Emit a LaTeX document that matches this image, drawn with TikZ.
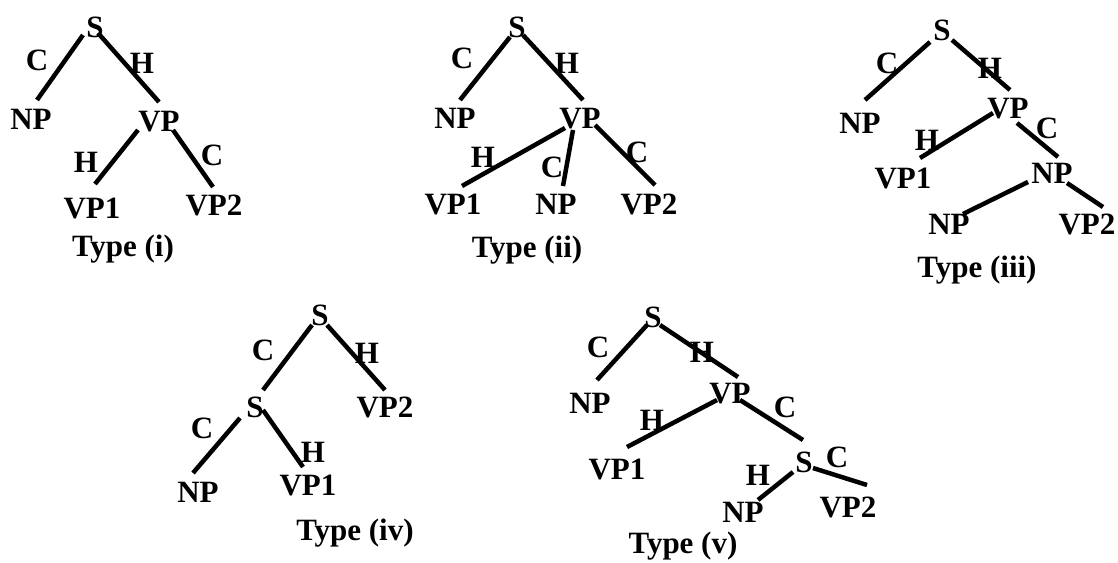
\documentclass[tikz,border=0pt]{standalone}
\usepackage{fontspec}
\setmainfont{Liberation Serif}
\begin{document}
\begin{tikzpicture}[x=1pt,y=-1pt,
  lab/.style={font=\fontsize{31}{31}\selectfont\bfseries, inner sep=0pt, text height=20.5pt, text depth=0pt, anchor=center},
  br/.style={line width=4.5pt}]
\useasboundingbox (0,0) rectangle (1118,562);
% ---------- Type (i)
\node[lab] (a-S) at (95,27) {S};
\node[lab] (a-NP) at (31,119) {NP};
\node[lab] (a-VP) at (159,121) {VP};
\node[lab] (a-VP1) at (92,208) {VP1};
\node[lab] (a-VP2) at (214,205) {VP2};
\node[lab] (a-c1) at (37,60) {C};
\node[lab] (a-h1) at (142,63) {H};
\node[lab] (a-h2) at (86,162) {H};
\node[lab] (a-c2) at (212,155) {C};
\node[lab] (a-T) at (123,246) {Type (i)};
\draw[br] ([shift={(-12,8)}]a-S.center) -- ([shift={(6,-19)}]a-NP.center);
\draw[br] ([shift={(3,6)}]a-S.center) -- ([shift={(0,-19)}]a-VP.center);
\draw[br] ([shift={(-21,9)}]a-VP.center) -- ([shift={(3,-24)}]a-VP1.center);
\draw[br] ([shift={(14,9)}]a-VP.center) -- ([shift={(-1,-18)}]a-VP2.center);
% ---------- Type (ii)
\node[lab] (b-S) at (517,27) {S};
\node[lab] (b-NP) at (455,118) {NP};
\node[lab] (b-VP) at (580,118) {VP};
\node[lab] (b-VP1) at (453,204) {VP1};
\node[lab] (b-NPb) at (556,204) {NP};
\node[lab] (b-VP2) at (649,204) {VP2};
\node[lab] (b-c1) at (462,58) {C};
\node[lab] (b-h1) at (567,63) {H};
\node[lab] (b-h2) at (483,157) {H};
\node[lab] (b-c2) at (552,167) {C};
\node[lab] (b-c3) at (637,152) {C};
\node[lab] (b-T) at (527,247) {Type (ii)};
\draw[br] ([shift={(-7,10)}]b-S.center) -- ([shift={(5,-18)}]b-NP.center);
\draw[br] ([shift={(6,8)}]b-S.center) -- ([shift={(3,-18)}]b-VP.center);
\draw[br] ([shift={(-15,10)}]b-VP.center) -- ([shift={(9,-18)}]b-VP1.center);
\draw[br] ([shift={(-7,12)}]b-VP.center) -- ([shift={(7,-18)}]b-NPb.center);
\draw[br] ([shift={(15,7)}]b-VP.center) -- ([shift={(6,-19)}]b-VP2.center);
% ---------- Type (iii)
\node[lab] (c-S) at (942,30) {S};
\node[lab] (c-NP) at (860,123) {NP};
\node[lab] (c-VP) at (1008,108) {VP};
\node[lab] (c-VP1) at (903,178) {VP1};
\node[lab] (c-NPm) at (1052,173) {NP};
\node[lab] (c-NPl) at (949,224) {NP};
\node[lab] (c-VP2) at (1087,224) {VP2};
\node[lab] (c-c1) at (887,63) {C};
\node[lab] (c-h1) at (990,68) {H};
\node[lab] (c-h2) at (927,140) {H};
\node[lab] (c-c2) at (1047,128) {C};
\node[lab] (c-T) at (977,267) {Type (iii)};
\draw[br] ([shift={(-12,12)}]c-S.center) -- ([shift={(5,-23)}]c-NP.center);
\draw[br] ([shift={(10,10)}]c-S.center) -- ([shift={(2,-18)}]c-VP.center);
\draw[br] ([shift={(-15,5)}]c-VP.center) -- ([shift={(17,-20)}]c-VP1.center);
\draw[br] ([shift={(9,15)}]c-VP.center) -- ([shift={(6,-16)}]c-NPm.center);
\draw[br] ([shift={(-24,9)}]c-NPm.center) -- ([shift={(14,-10)}]c-NPl.center);
\draw[br] ([shift={(15,10)}]c-NPm.center) -- ([shift={(16,-17)}]c-VP2.center);
% ---------- Type (iv)
\node[lab] (d-S) at (320,315) {S};
\node[lab] (d-S2) at (255,407) {S};
\node[lab] (d-VP2) at (385,407) {VP2};
\node[lab] (d-NP) at (198,492) {NP};
\node[lab] (d-VP1) at (308,485) {VP1};
\node[lab] (d-c1) at (263,350) {C};
\node[lab] (d-h1) at (367,353) {H};
\node[lab] (d-c2) at (202,428) {C};
\node[lab] (d-h2) at (313,452) {H};
\node[lab] (d-T) at (355,530) {Type (iv)};
\draw[br] ([shift={(-8,10)}]d-S.center) -- ([shift={(8,-17)}]d-S2.center);
\draw[br] ([shift={(7,10)}]d-S.center) -- ([shift={(0,-17)}]d-VP2.center);
\draw[br] ([shift={(8,3)}]d-S2.center) -- ([shift={(-5,-18)}]d-VP1.center);
\draw[br] ([shift={(-15,11)}]d-S2.center) -- ([shift={(-5,-19)}]d-NP.center);
% ---------- Type (v)
\node[lab] (e-S) at (653,317) {S};
\node[lab] (e-NP) at (590,403) {NP};
\node[lab] (e-VP) at (730,393) {VP};
\node[lab] (e-VP1) at (617,469) {VP1};
\node[lab] (e-S2) at (804,462) {S};
\node[lab] (e-NP2) at (743,512) {NP};
\node[lab] (e-VP2) at (848,507) {VP2};
\node[lab] (e-c1) at (598,347) {C};
\node[lab] (e-h1) at (702,352) {H};
\node[lab] (e-h2) at (652,420) {H};
\node[lab] (e-c2) at (785,407) {C};
\node[lab] (e-h3) at (758,475) {H};
\node[lab] (e-c3) at (837,457) {C};
\node[lab] (e-T) at (683,543) {Type (v)};
\draw[br] ([shift={(-6,8)}]e-S.center) -- ([shift={(7,-23)}]e-NP.center);
\draw[br] ([shift={(7,8)}]e-S.center) -- ([shift={(8,-16)}]e-VP.center);
\draw[br] ([shift={(-13,7)}]e-VP.center) -- ([shift={(10,-22)}]e-VP1.center);
\draw[br] ([shift={(10,7)}]e-VP.center) -- ([shift={(-1,-22)}]e-S2.center);
\draw[br] ([shift={(-11,10)}]e-S2.center) -- ([shift={(15,-12)}]e-NP2.center);
\draw[br] ([shift={(9,6)}]e-S2.center) -- ([shift={(19,-22)}]e-VP2.center);
\end{tikzpicture}
\end{document}
